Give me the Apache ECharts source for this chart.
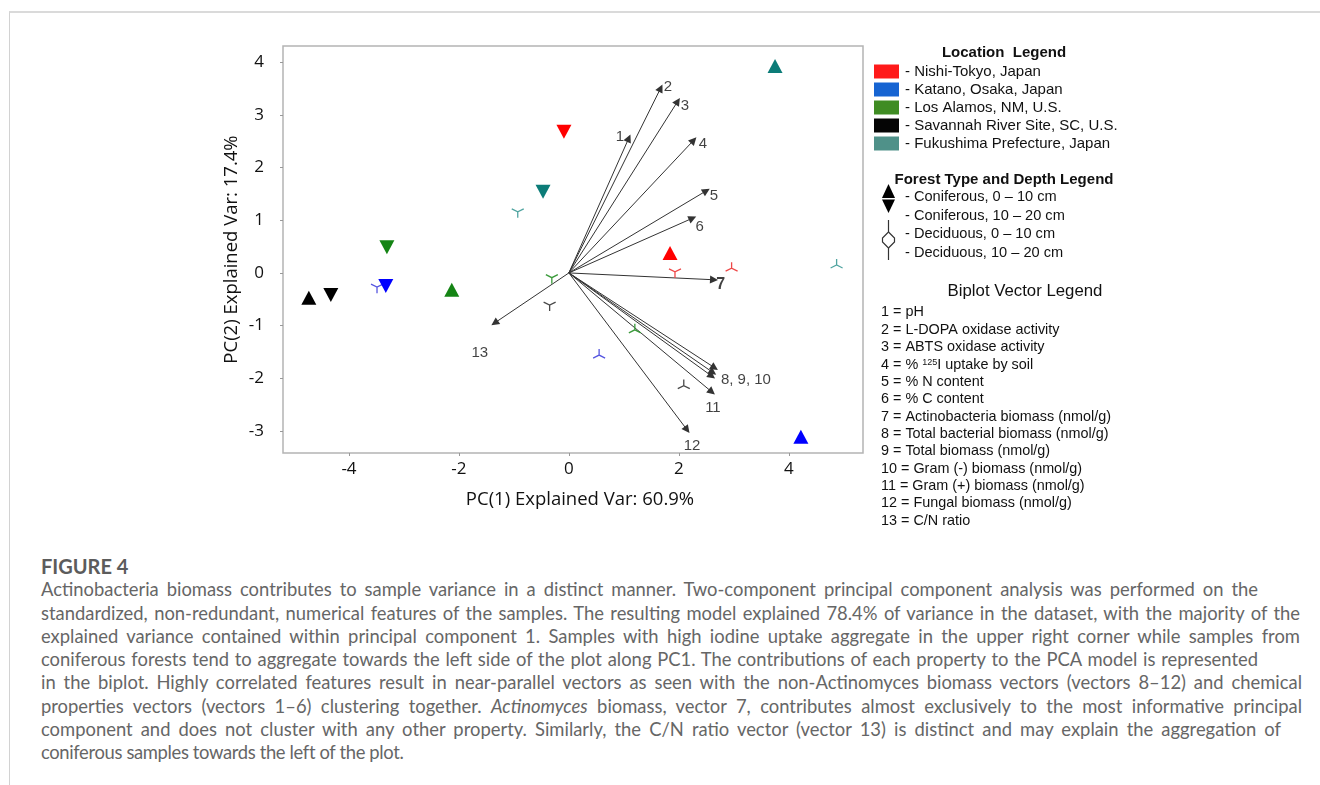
<!DOCTYPE html>
<html>
<head>
<meta charset="utf-8">
<title>PCA biplot</title>
<script src="https://cdn.jsdelivr.net/npm/echarts@6/dist/echarts.min.js"></script>
<style>
  html, body { margin: 0; padding: 0; background: #fff; }
  #page { position: relative; width: 1320px; height: 785px; overflow: hidden; }
  #frame { position: absolute; left: 9px; top: 11px; right: -2px; bottom: -2px;
           border-top: 2px solid #dadada; border-left: 1.5px solid #d2d2d2; }
  #main { position: absolute; left: 0; top: 0; width: 1320px; height: 540px; }
  #caption { position: absolute; left: 41px; top: 555px; font-family: Lato, "Open Sans", sans-serif;
             color: #666; font-size: 18.4px; line-height: 23.3px; }
  #caption div { text-align: justify; text-align-last: justify; }
  #caption .fig { font-weight: bold; color: #5c5c5c; font-size: 20px; text-align-last: left; }
  #caption .last { text-align-last: left; letter-spacing: -0.35px; }
</style>
</head>
<body>
<div id="page">
  <div id="frame"></div>
  <div id="main"></div>
  <div id="caption">
    <div class="fig">FIGURE 4</div>
    <div style="width:1217px">Actinobacteria biomass contributes to sample variance in a distinct manner. Two-component principal component analysis was performed on the</div>
    <div style="width:1259px">standardized, non-redundant, numerical features of the samples. The resulting model explained 78.4% of variance in the dataset, with the majority of the</div>
    <div style="width:1259px">explained variance contained within principal component 1. Samples with high iodine uptake aggregate in the upper right corner while samples from</div>
    <div style="width:1217px">coniferous forests tend to aggregate towards the left side of the plot along PC1. The contributions of each property to the PCA model is represented</div>
    <div style="width:1261px">in the biplot. Highly correlated features result in near-parallel vectors as seen with the non-Actinomyces biomass vectors (vectors 8–12) and chemical</div>
    <div style="width:1261px">properties vectors (vectors 1–6) clustering together. <i>Actinomyces</i> biomass, vector 7, contributes almost exclusively to the most informative principal</div>
    <div style="width:1240px">component and does not cluster with any other property. Similarly, the C/N ratio vector (vector 13) is distinct and may explain the aggregation of</div>
    <div class="last">coniferous samples towards the left of the plot.</div>
  </div>
</div>
<script>
// sample locations, same order is used by every score array below
const locations = ['Nishi-Tokyo, Japan', 'Katano, Osaka, Japan', 'Los Alamos, NM, U.S.',
  'Savannah River Site, SC, U.S.', 'Fukushima Prefecture, Japan'];
const coniferColors = ['#ff0000', '#0000ff', '#148414', '#000000', '#0c7c78'];
const deciduColors = ['#ee4848', '#5656e0', '#3a9a3a', '#484848', '#50a4a0'];
const legendColors = ['#ff1a1a', '#1664d2', '#3f8c23', '#050505', '#4f9189'];

// PC1 / PC2 scores
const conifer0to10 = [[1.84, 0.38], [4.22, -3.11], [-2.13, -0.32], [-4.73, -0.47], [3.75, 3.93]];
const conifer10to20 = [[-0.09, 2.68], [-3.33, -0.25], [-3.31, 0.49], [-4.33, -0.42], [-0.47, 1.54]];
const deciduous0to10 = [[2.96, 0.09], [0.55, -1.56], [1.20, -1.08], [2.09, -2.14], [4.87, 0.15]];
const deciduous10to20 = [[1.93, 0.02], [-3.49, -0.27], [-0.31, -0.09], [-0.35, -0.61], [-0.93, 1.16]];

const forestTypes = ['- Coniferous, 0 – 10 cm', '- Coniferous, 10 – 20 cm',
  '- Deciduous, 0 – 10 cm', '- Deciduous, 10 – 20 cm'];

// biplot loadings (arrow tips)
const vectorNames = ['pH', 'L-DOPA oxidase activity', 'ABTS oxidase activity',
  '% {sup|125}I uptake by soil', '% N content', '% C content',
  'Actinobacteria biomass (nmol/g)', 'Total bacterial biomass (nmol/g)',
  'Total biomass (nmol/g)', 'Gram (-) biomass (nmol/g)', 'Gram (+) biomass (nmol/g)',
  'Fungal biomass (nmol/g)', 'C/N ratio'];
const vectorTips = [[1.09, 2.56], [1.67, 3.51], [1.98, 3.26], [2.27, 2.52], [2.50, 1.56],
  [2.25, 1.04], [2.64, -0.13], [2.65, -1.80], [2.62, -1.89], [2.60, -1.96],
  [2.60, -2.26], [2.15, -2.98], [-1.35, -0.95]];
const vectorLabelText = ['1', '2', '3', '4', '5', '6', '7', '8, 9, 10', '11', '12', '13'];
const vectorLabelAt = [[0.93, 2.58], [1.80, 3.53], [2.11, 3.17], [2.44, 2.45], [2.64, 1.46],
  [2.38, 0.87], [2.76, -0.23], [3.22, -2.03], [2.62, -2.56], [2.24, -3.28], [-1.62, -1.52]];

const xTicks = [-4, -2, 0, 2, 4];
const yTicks = [-3, -2, -1, 0, 1, 2, 3, 4];

const ARIAL = '"Liberation Sans", Arial, sans-serif';
const OPEN = '"Open Sans", sans-serif';
const SYM_Y = 'path://M5,0M0.67,2.5L5,5L9.33,2.5M5,5L5,10';
const SYM_LAMBDA = 'path://M5,10M5,0L5,5M0.67,7.5L5,5L9.33,7.5';

function triSeries(name, pts, rotate) {
  return {
    name: name, type: 'scatter', symbol: 'triangle', symbolSize: [15, 14], symbolRotate: rotate,
    z: 5, silent: true,
    data: pts.map((p, i) => ({ value: p, itemStyle: { color: coniferColors[i], opacity: 1 } }))
  };
}
function starSeries(name, pts, sym) {
  return {
    name: name, type: 'scatter', symbol: sym, symbolSize: 12, z: 4, silent: true,
    data: pts.map((p, i) => ({
      value: p,
      itemStyle: { color: 'none', borderColor: deciduColors[i], borderWidth: 1.3, opacity: 1 }
    }))
  };
}

// ---- legend on the right, built with graphic elements
const graphics = [];
function txt(x, y, text, font, align, extra) {
  graphics.push({
    type: 'text', x: x, y: y, silent: true,
    style: Object.assign({ text: text, font: font, fill: '#111', align: align || 'left', verticalAlign: 'middle' }, extra || {})
  });
}
txt(1004, 53, 'Location  Legend', 'bold 15px ' + ARIAL, 'center');
locations.forEach((loc, i) => {
  const y = 71.5 + i * 18;
  graphics.push({ type: 'rect', silent: true, shape: { x: 874, y: y - 7, width: 25, height: 14 }, style: { fill: legendColors[i] } });
  txt(905, y, '- ' + loc, '15px ' + ARIAL);
});
txt(1004, 180, 'Forest Type and Depth Legend', 'bold 15px ' + ARIAL, 'center');
forestTypes.forEach((t, i) => txt(905, 197 + i * 18.6, t, '14.6px ' + ARIAL));
graphics.push({ type: 'polygon', silent: true, shape: { points: [[882, 198], [888.5, 184], [895, 198]] }, style: { fill: '#000' } });
graphics.push({ type: 'polygon', silent: true, shape: { points: [[882, 199.5], [895, 199.5], [888.5, 213]] }, style: { fill: '#000' } });
graphics.push({ type: 'polyline', silent: true, shape: { points: [[888.5, 220], [888.5, 232], [882.5, 238], [882.5, 242], [888.5, 248], [888.5, 260]] }, style: { stroke: '#333', lineWidth: 1.2, fill: null } });
graphics.push({ type: 'polyline', silent: true, shape: { points: [[888.5, 232], [894.5, 238], [894.5, 242], [888.5, 248]] }, style: { stroke: '#333', lineWidth: 1.2, fill: null } });

txt(1025, 291, 'Biplot Vector Legend', '16.8px ' + ARIAL, 'center');
vectorNames.forEach((n, i) => {
  txt(881, 312.5 + i * 17.35, (i + 1) + ' = ' + n, '14.4px ' + ARIAL, 'left', {
    rich: { sup: { fontSize: 9, fontFamily: ARIAL, verticalAlign: 'top', fill: '#111' } }
  });
});

const chart = echarts.init(document.getElementById('main'));
chart.setOption({
  animation: false,
  grid: { left: 283, top: 46, width: 580, height: 407, show: true, borderColor: '#b4b4b4', borderWidth: 1.5, backgroundColor: '#fff' },
  xAxis: {
    type: 'value', min: -5.2, max: 5.35,
    name: 'PC(1) Explained Var: 60.9%', nameLocation: 'middle', nameGap: 37,
    nameTextStyle: { fontFamily: OPEN, fontSize: 18.5, color: '#111', padding: [0, 0, 0, 14] },
    axisLine: { show: false, onZero: false },
    axisTick: { show: true, customValues: xTicks, length: 3, lineStyle: { color: '#999' } },
    axisLabel: { customValues: xTicks, margin: 8, fontFamily: OPEN, fontSize: 17, color: '#111' },
    splitLine: { show: false }
  },
  yAxis: {
    type: 'value', min: -3.42, max: 4.31,
    name: 'PC(2) Explained Var: 17.4%', nameLocation: 'middle', nameGap: 42, nameRotate: 90,
    nameTextStyle: { fontFamily: OPEN, fontSize: 18.5, color: '#111' },
    axisLine: { show: false, onZero: false },
    axisTick: { show: true, customValues: yTicks, length: 3, lineStyle: { color: '#999' } },
    axisLabel: { customValues: yTicks, margin: 19, fontFamily: OPEN, fontSize: 17, color: '#111' },
    splitLine: { show: false }
  },
  graphic: graphics,
  series: [
    {
      name: 'vectors', type: 'lines', coordinateSystem: 'cartesian2d', silent: true, z: 3,
      symbol: ['none', 'triangle'], symbolSize: 8,
      lineStyle: { color: '#333', width: 1, opacity: 1 },
      data: vectorTips.map(t => ({ coords: [[0, 0], t] }))
    },
    {
      name: 'vector labels', type: 'scatter', symbolSize: 1, silent: true, z: 6,
      itemStyle: { color: 'transparent' },
      label: { show: true, position: 'inside', fontFamily: ARIAL, fontSize: 15, color: '#111',
        formatter: p => vectorLabelText[p.dataIndex] },
      data: vectorLabelAt.map((p, i) => ({
        value: p, label: vectorLabelText[i] === '7' ? { fontWeight: 'bold', fontSize: 16 } : {}
      }))
    },
    triSeries('Coniferous, 0 – 10 cm', conifer0to10, 0),
    triSeries('Coniferous, 10 – 20 cm', conifer10to20, 180),
    starSeries('Deciduous, 0 – 10 cm', deciduous0to10, SYM_LAMBDA),
    starSeries('Deciduous, 10 – 20 cm', deciduous10to20, SYM_Y)
  ]
});
</script>
</body>
</html>
